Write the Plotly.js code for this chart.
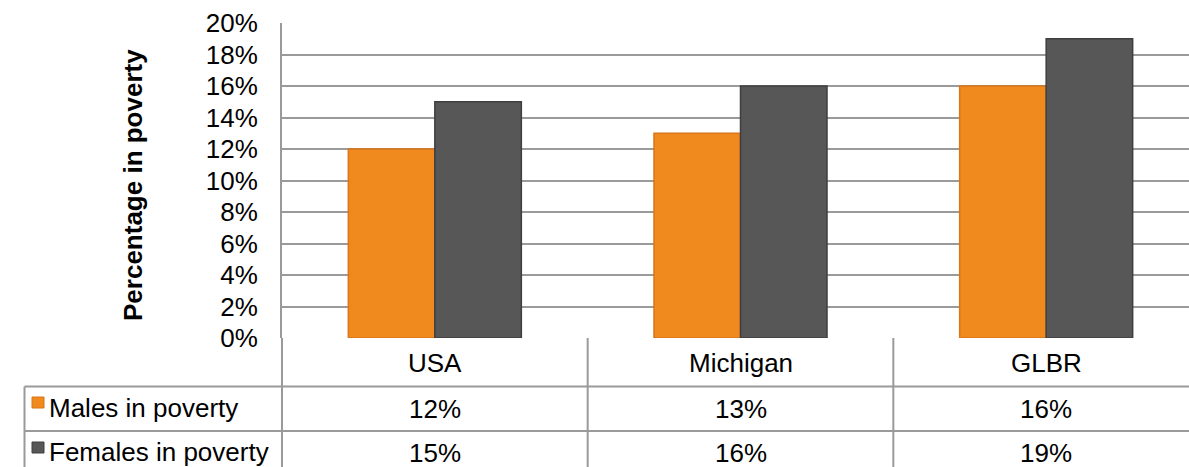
<!DOCTYPE html>
<html><head><meta charset="utf-8">
<script src="https://cdn.plot.ly/plotly-3.0.1.min.js"></script>
<style>html,body{margin:0;padding:0;overflow:hidden;background:#fff}#chart{width:1200px;height:467px}</style>
</head><body><div id="chart"></div>
<script>
const categories = ["USA", "Michigan", "GLBR"];
const seriesNames = ["Males in poverty", "Females in poverty"];
const males = [12, 13, 16];
const females = [15, 16, 19];
const yTickVals = [0, 2, 4, 6, 8, 10, 12, 14, 16, 18, 20];
const yTitle = "Percentage in poverty";

const colors = ["#F08A1F", "#575757"];
const edge = ["#D7761A", "#3f3f3f"];

const W = 1200, H = 467, L = 282, T = 23, B = 129, R = 1;
const pw = W - L - R, ph = H - T - B;
const px = x => (x - L) / pw;
const py = y => (H - B - y) / ph;
const FONT = "Liberation Sans, Arial, sans-serif";
const FS = 26;
const grid = "#9a9a9a";

const xIdx = categories.map((c, i) => i);
const traces = [males, females].map((vals, k) => ({
  type: "bar", x: xIdx, y: vals, name: seriesNames[k],
  marker: {color: colors[k], line: {color: edge[k], width: 1.5}},
  hoverinfo: "y"
}));

const shapes = [];
const ann = [];
shapes.push({type: "line", xref: "paper", yref: "paper", x0: 0, x1: 0, y0: 0, y1: py(470), line: {color: grid, width: 2}});
for (let i = 0; i < categories.length - 1; i++) {
  shapes.push({type: "line", xref: "x", yref: "paper", x0: i + 0.5, x1: i + 0.5, y0: 0, y1: py(470), line: {color: grid, width: 2}});
}
[386.5, 431].forEach(y => shapes.push({type: "line", xref: "paper", yref: "paper", x0: px(24.5), x1: 1, y0: py(y), y1: py(y), line: {color: grid, width: 2}}));
shapes.push({type: "line", xref: "paper", yref: "paper", x0: px(24.5), x1: px(24.5), y0: py(386.5), y1: py(470), line: {color: grid, width: 2}});
categories.forEach((c, i) => ann.push({xref: "x", yref: "paper", x: i, y: py(363), text: c, showarrow: false, font: {family: FONT, size: FS, color: "#000"}, xanchor: "center", yanchor: "middle"}));
const rowY = [409, 453];
const keyTop = [397, 442];
[males, females].forEach((vals, k) => {
  vals.forEach((v, i) => ann.push({xref: "x", yref: "paper", x: i, y: py(rowY[k]), text: v + "%", showarrow: false, font: {family: FONT, size: FS, color: "#000"}, xanchor: "center", yanchor: "middle"}));
  ann.push({xref: "paper", yref: "paper", x: px(47), y: py(rowY[k] - 1), text: seriesNames[k], showarrow: false, font: {family: FONT, size: FS, color: "#000"}, xanchor: "left", yanchor: "middle"});
  shapes.push({type: "rect", xref: "paper", yref: "paper", x0: px(32), x1: px(44), y0: py(keyTop[k]), y1: py(keyTop[k] + 11), fillcolor: colors[k], line: {color: edge[k], width: 1}});
});
ann.push({xref: "paper", yref: "paper", x: px(133), y: py(185), text: "<b>" + yTitle + "</b>", textangle: -90, showarrow: false, font: {family: FONT, size: FS, color: "#000"}, xanchor: "center", yanchor: "middle"});

const layout = {
  width: W, height: H,
  margin: {l: L, r: R, t: T, b: B, pad: 0},
  paper_bgcolor: "#fff", plot_bgcolor: "#fff",
  barmode: "group", bargap: 0.434, bargroupgap: 0,
  showlegend: false,
  xaxis: {range: [-0.5, categories.length - 0.5], showticklabels: false, showgrid: false, zeroline: false, showline: false, fixedrange: true},
  yaxis: {range: [0, 20], tickvals: yTickVals, ticktext: yTickVals.map(v => v + "%"),
    showgrid: true, gridcolor: grid, gridwidth: 2, zeroline: false, showline: true, linecolor: grid, linewidth: 2,
    ticks: "", ticklabelstandoff: 17, tickfont: {family: FONT, size: FS, color: "#000"}, fixedrange: true},
  shapes: shapes, annotations: ann
};
Plotly.newPlot("chart", traces, layout, {displayModeBar: false, staticPlot: true});
</script></body></html>
